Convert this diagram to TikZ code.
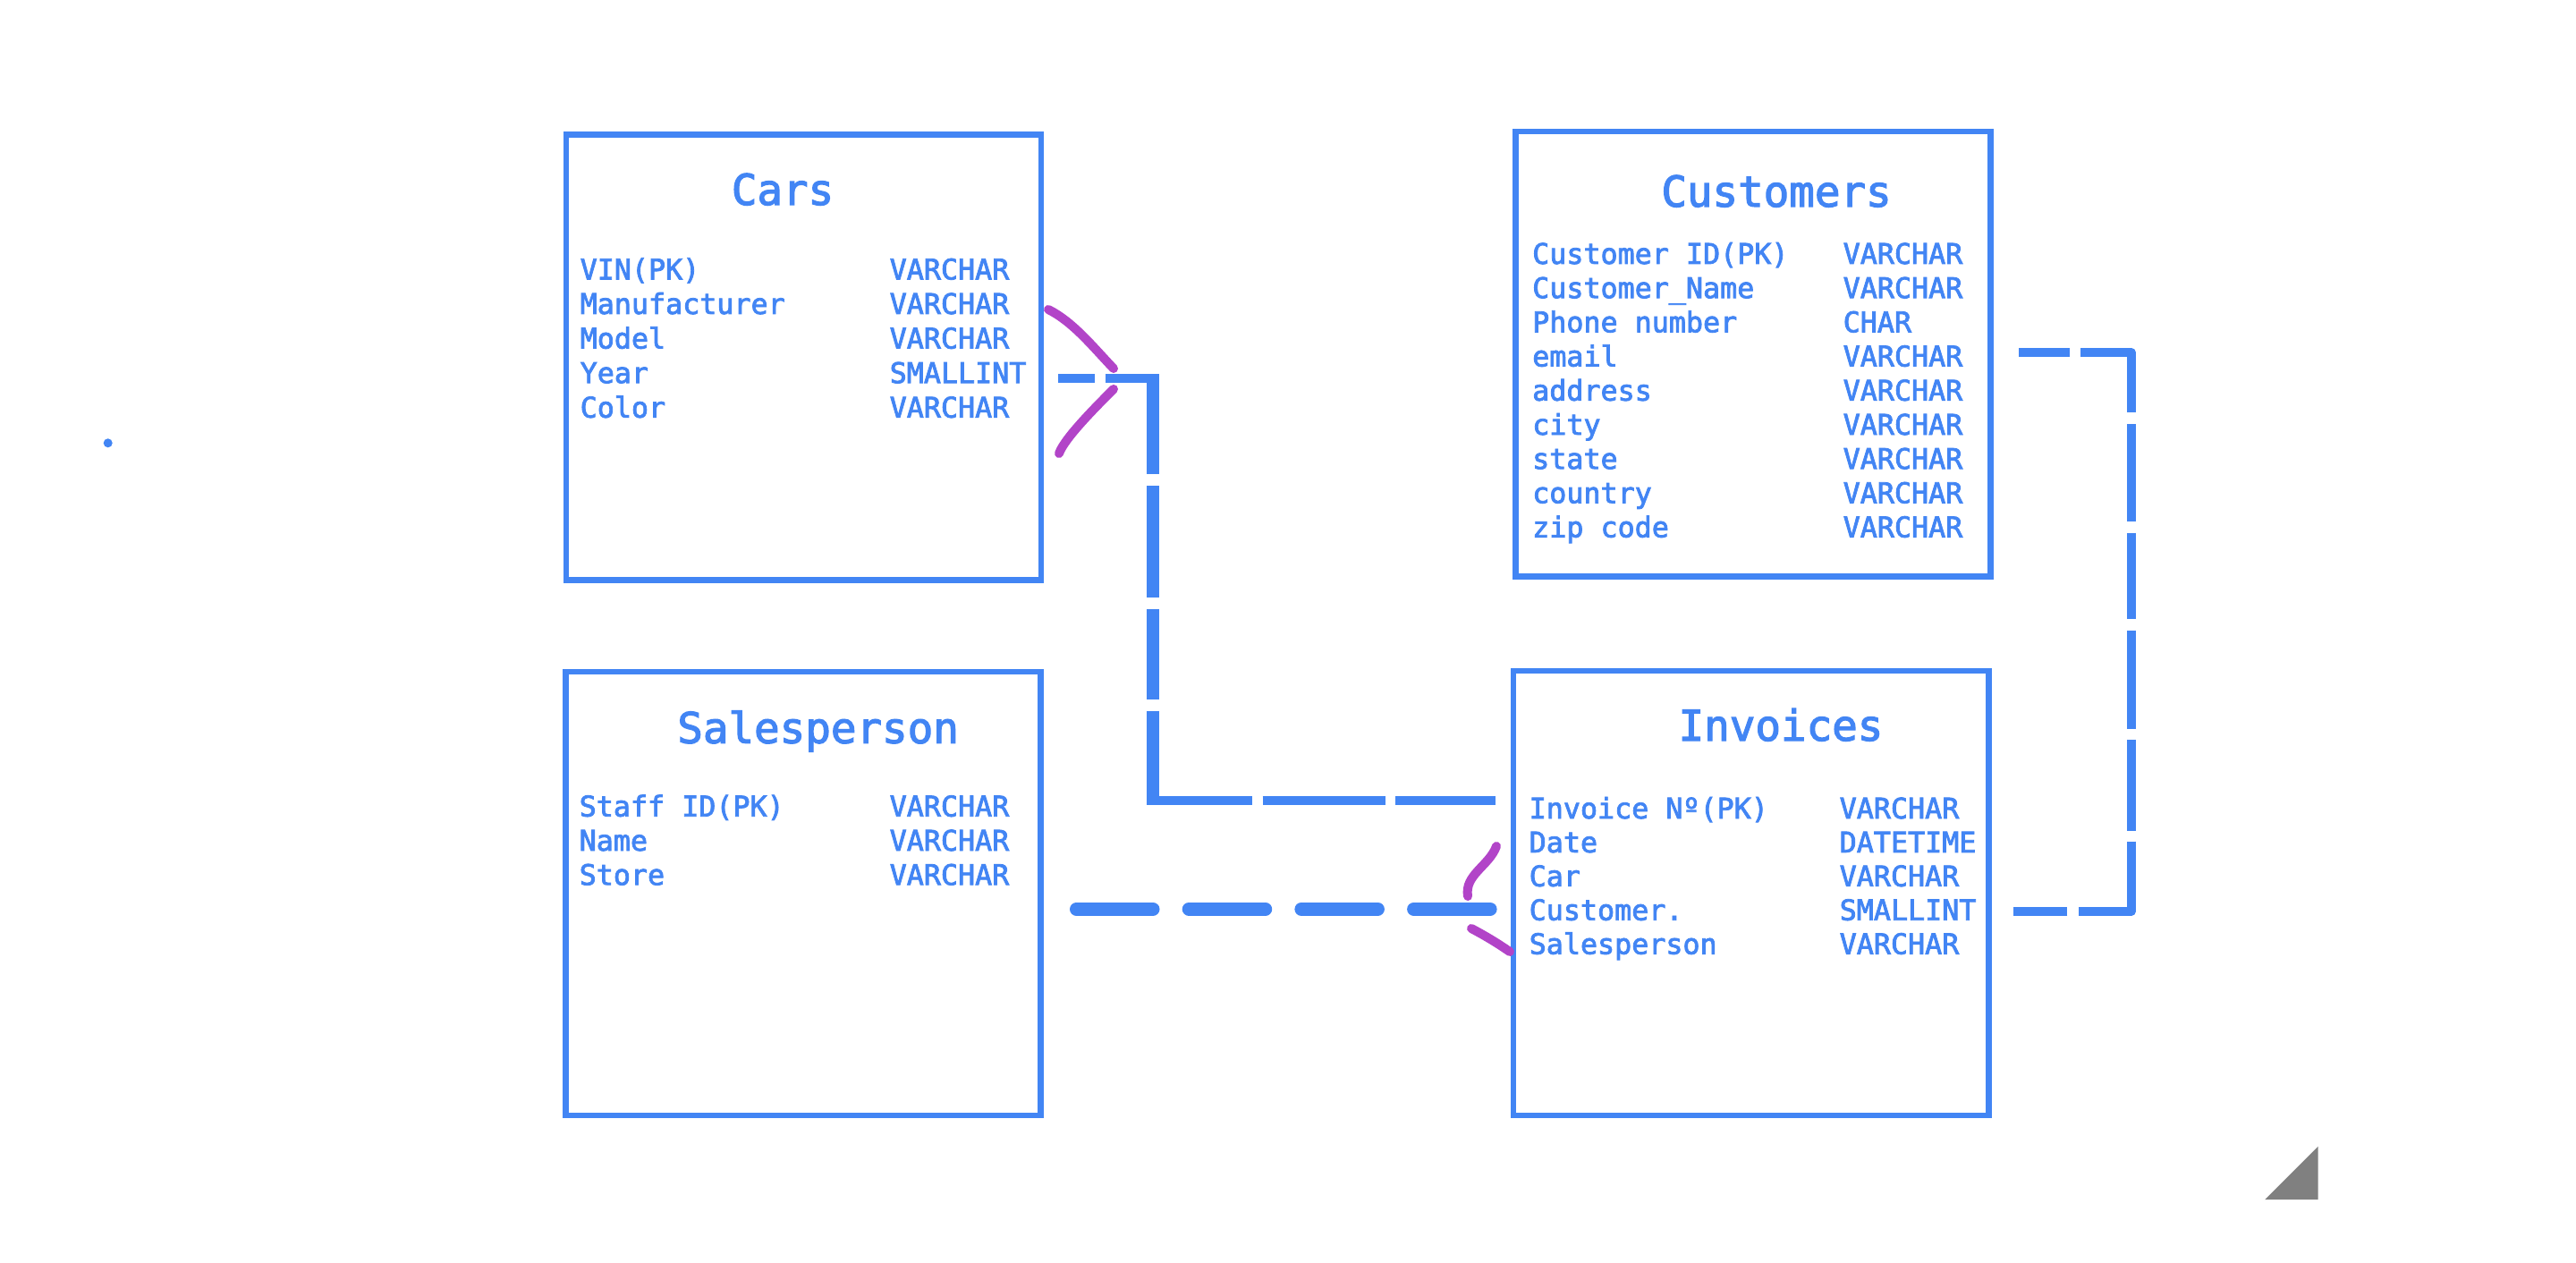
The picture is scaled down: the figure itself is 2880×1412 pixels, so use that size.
\documentclass[tikz,border=0pt]{standalone}
\usepackage{fontspec}
\newfontfamily\erdmono[FakeBold=2.5]{DejaVu Sans Mono}
\definecolor{erblue}{RGB}{66,133,244}
\definecolor{ermag}{RGB}{178,68,200}
\definecolor{ergray}{RGB}{128,128,128}
\begin{document}
\begin{tikzpicture}[x=1bp,y=-1bp,
  tablebox/.style={draw=erblue, line width=6.5bp, inner sep=0pt, rectangle},
  titletext/.style={text=erblue, font=\erdmono\fontsize{47.5bp}{50bp}\selectfont, inner sep=0pt, anchor=base},
  rowtext/.style={text=erblue, font=\erdmono\fontsize{31.7bp}{38bp}\selectfont, inner sep=0pt, anchor=base west},
  conn/.style={draw=erblue, line cap=butt},
  crow/.style={draw=ermag, line width=10bp, line cap=round}]
\useasboundingbox (0,0) rectangle (2880,1412);
\fill[white] (0,0) rectangle (2880,1412);

% tables
\node[tablebox, minimum width=531bp, minimum height=498bp] (cars) at (898.3,399.4) {};
\node[tablebox, minimum width=531.3bp, minimum height=497.6bp] (cust) at (1959.9,395.7) {};
\node[tablebox, minimum width=531bp, minimum height=496bp] (sales) at (898,999) {};
\node[tablebox, minimum width=531.5bp, minimum height=497bp] (inv) at (1957.8,998.5) {};

% titles
\node[titletext] (carsTitle) at (875,229) {Cars};
\node[titletext] (custTitle) at (1986,231) {Customers};
\node[titletext] (salesTitle) at (914.6,830.7) {Salesperson};
\node[titletext] (invTitle) at (1991,828) {Invoices};

% rows
\foreach \na/\ty [count=\i from 0] in {VIN(PK)/VARCHAR, Manufacturer/VARCHAR, Model/VARCHAR, Year/SMALLINT, Color/VARCHAR}{
  \node[rowtext] (carsN\i) at (648.5, 312.4+38.6*\i) {\na};
  \node[rowtext] (carsY\i) at (994.5, 312.4+38.6*\i) {\ty};
}
\foreach \na/\ty [count=\i from 0] in {Customer ID(PK)/VARCHAR, Customer\_Name/VARCHAR, Phone number/CHAR, email/VARCHAR, address/VARCHAR, city/VARCHAR, state/VARCHAR, country/VARCHAR, zip code/VARCHAR}{
  \node[rowtext] (custN\i) at (1713, 295+38.2*\i) {\na};
  \node[rowtext] (custY\i) at (2060.5, 295+38.2*\i) {\ty};
}
\foreach \na/\ty [count=\i from 0] in {Staff ID(PK)/VARCHAR, Name/VARCHAR, Store/VARCHAR}{
  \node[rowtext] (salesN\i) at (647.5, 912.7+38.3*\i) {\na};
  \node[rowtext] (salesY\i) at (994.5, 912.7+38.3*\i) {\ty};
}
\foreach \na/\ty [count=\i from 0] in {Invoice Nº(PK)/VARCHAR, Date/DATETIME, Car/VARCHAR, Customer./SMALLINT, Salesperson/VARCHAR}{
  \node[rowtext] (invN\i) at (1709.5, 915+37.9*\i) {\na};
  \node[rowtext] (invY\i) at (2056.5, 915+37.9*\i) {\ty};
}

% connector Cars -> Invoices
\coordinate (lA) at (1183,423);
\coordinate (lB) at (1295.8,423);
\coordinate (lC) at (1289,418);
\coordinate (lD) at (1289,900);
\coordinate (lE) at (1282.2,895);
\coordinate (lF) at (1671.7,895);
\draw[conn, line width=10bp, dash pattern=on 41bp off 12bp on 200bp off 10bp] (lA) -- (lB);
\draw[conn, line width=13.6bp, dash pattern=on 112bp off 13bp on 125bp off 12.5bp on 101.5bp off 12.5bp on 200bp off 10bp] (lC) -- (lD);
\draw[conn, line width=10bp, dash pattern=on 117.8bp off 11.7bp on 137bp off 11.6bp on 200bp off 10bp] (lE) -- (lF);

% connector Customers -> Invoices
\coordinate (rA) at (2257,394);
\coordinate (rB) at (2383,394);
\coordinate (rC) at (2383,1019);
\coordinate (rD) at (2251,1019);
\draw[conn, line width=9.3bp, line join=round, dash pattern=on 56.6bp off 12.7bp on 123.4bp off 13.4bp on 108.5bp off 13bp on 96.7bp off 12.6bp on 109.9bp off 12.5bp on 101.3bp off 12.1bp on 137.6bp off 12.3bp on 100bp off 10bp] (rA) -- (rB) -- (rC) -- (rD);

% connector Salesperson -> Invoices
\coordinate (sA) at (1203.5,1016.3);
\coordinate (sB) at (1666.5,1016.3);
\draw[conn, line width=15bp, line cap=round, dash pattern=on 85.5bp off 40.2bp] (sA) -- (sB);

% crow's feet
\draw[crow] (1172,346) .. controls (1200,360) and (1222,388) .. (1245,412);
\draw[crow] (1245,435) .. controls (1225,455) and (1190,490) .. (1184,507);
\draw[crow] (1673,946) .. controls (1665,968) and (1637,978) .. (1641,1002);
\draw[crow] (1645,1038) .. controls (1662,1047) and (1675,1055) .. (1688,1064);

% stray marks
\fill[erblue] (120.7,495.3) circle[radius=5bp];
\fill[ergray] (2591.7,1281.7) -- (2591.7,1341) -- (2532.3,1341) -- cycle;
\end{tikzpicture}
\end{document}
